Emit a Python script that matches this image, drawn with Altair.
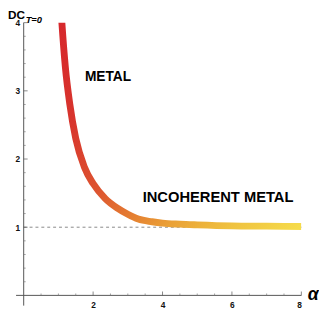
import altair as alt
import pandas as pd

# curve values
alpha = [1.05, 1.1, 1.2, 1.33, 1.5, 1.75, 2.0, 2.35, 2.7, 3.0, 3.3, 3.7, 4.0, 4.5, 5.0, 6.0, 7.0, 8.0]
dc = [4.4, 4.0, 3.35, 2.8, 2.3, 1.88, 1.64, 1.42, 1.28, 1.19, 1.12, 1.08, 1.06, 1.045, 1.035, 1.02, 1.015, 1.01]

x_major = [2, 4, 6, 8]
x_minor = [0.5, 1, 1.5, 2.5, 3, 3.5, 4.5, 5, 5.5, 6.5, 7, 7.5]
y_major = [1, 2, 3, 4]
y_minor = [0.2, 0.4, 0.6, 0.8, 1.2, 1.4, 1.6, 1.8, 2.2, 2.4, 2.6, 2.8, 3.2, 3.4, 3.6, 3.8]

labels = ["METAL", "INCOHERENT METAL"]
label_x = [2.43, 5.60]
label_y = [3.20, 1.446]

W, H = 283, 278
FONT = "Liberation Sans"

xs = alt.Scale(domain=[0, 8], nice=False)
ys = alt.Scale(domain=[0, 4], nice=False)

curve_df = pd.DataFrame({"a": alpha, "dc": dc})
base = alt.Chart(curve_df)

grad = alt.Gradient(
    gradient="linear",
    stops=[
        alt.GradientStop(offset=0, color="#d6252c"),
        alt.GradientStop(offset=0.3, color="#d8352d"),
        alt.GradientStop(offset=0.5, color="#dd5430"),
        alt.GradientStop(offset=0.62, color="#e47c31"),
        alt.GradientStop(offset=0.72, color="#eaa036"),
        alt.GradientStop(offset=0.85, color="#efc13f"),
        alt.GradientStop(offset=1, color="#f6dc4b"),
    ],
    x1=0, y1=0, x2=1, y2=1,
)

axis_x = alt.Axis(values=x_major, format="d", ticks=False, domain=False, grid=False, title=None,
                  labelFont=FONT, labelFontSize=8.5, labelFontWeight="bold", labelColor="#111",
                  labelPadding=5)
axis_y = alt.Axis(values=y_major, format="d", ticks=False, domain=False, grid=False, title=None,
                  labelFont=FONT, labelFontSize=8.5, labelFontWeight="bold", labelColor="#111",
                  labelPadding=4)

dashed = alt.Chart(pd.DataFrame({"y": [1]})).mark_rule(
    color="#888", strokeDash=[3, 3], strokeWidth=1
).encode(
    x=alt.datum(0, scale=xs, axis=axis_x),
    x2=alt.datum(8),
    y=alt.Y("y:Q", scale=ys, axis=axis_y),
)

xaxis_line = alt.Chart(pd.DataFrame({"y": [0]})).mark_rule(color="#555", strokeWidth=1, clip=False).encode(
    x=alt.datum(-0.22), x2=alt.datum(8), y=alt.Y("y:Q")
)
yaxis_line = alt.Chart(pd.DataFrame({"x": [0]})).mark_rule(color="#555", strokeWidth=1, clip=False).encode(
    x=alt.X("x:Q"), y=alt.datum(-0.15), y2=alt.datum(4)
)

xt_major = alt.Chart(pd.DataFrame({"v": x_major})).mark_tick(
    color="#555", size=4, thickness=1, orient="vertical"
).encode(x=alt.X("v:Q"), y=alt.value(H - 2))
xt_minor = alt.Chart(pd.DataFrame({"v": x_minor})).mark_tick(
    color="#777", size=2, thickness=1, orient="vertical"
).encode(x=alt.X("v:Q"), y=alt.value(H - 1))
yt_major = alt.Chart(pd.DataFrame({"v": y_major})).mark_tick(
    color="#555", size=4, thickness=1, orient="horizontal"
).encode(y=alt.Y("v:Q"), x=alt.value(2))
yt_minor = alt.Chart(pd.DataFrame({"v": y_minor})).mark_tick(
    color="#777", size=2, thickness=1, orient="horizontal"
).encode(y=alt.Y("v:Q"), x=alt.value(1))

curve = base.mark_line(stroke=grad, strokeWidth=7, interpolate="monotone", clip=True, strokeCap="butt").encode(
    x=alt.X("a:Q"), y=alt.Y("dc:Q")
)

lab_df = pd.DataFrame({"t": labels, "x": label_x, "y": label_y})
lab1 = alt.Chart(lab_df.iloc[[0]]).mark_text(font=FONT, fontWeight="bold", fontSize=14, color="#000",
                                             align="center", baseline="middle").encode(
    x="x:Q", y="y:Q", text="t:N")
lab2 = alt.Chart(lab_df.iloc[[1]]).mark_text(font=FONT, fontWeight="bold", fontSize=15, color="#000",
                                             align="center", baseline="middle").encode(
    x="x:Q", y="y:Q", text="t:N")

dc_title = alt.Chart(pd.DataFrame({"t": ["DC"]})).mark_text(font=FONT, fontWeight="bold", fontSize=12, color="#000",
                                                            align="left", baseline="alphabetic").encode(
    x=alt.value(-16), y=alt.value(-3.3), text="t:N")
sub_title = alt.Chart(pd.DataFrame({"t": ["T=0"]})).mark_text(font=FONT, fontWeight="bold", fontStyle="italic",
                                                              fontSize=9.5, color="#000",
                                                              align="left", baseline="alphabetic").encode(
    x=alt.value(2), y=alt.value(0), text="t:N")
alpha_title = alt.Chart(pd.DataFrame({"t": ["α"]})).mark_text(font=FONT, fontWeight="bold", fontStyle="italic",
                                                              fontSize=18, color="#000",
                                                              align="left", baseline="alphabetic").encode(
    x=alt.value(289.5), y=alt.value(H + 4.5), text="t:N")

chart = alt.layer(
    dashed, xaxis_line, yaxis_line, xt_major, xt_minor, yt_major, yt_minor,
    curve, lab1, lab2, dc_title, sub_title, alpha_title
).properties(
    width=W, height=H,
    autosize=alt.AutoSizeParams(type="none"),
    padding={"left": 16, "top": 12, "right": 18, "bottom": 14},
).configure_view(stroke=None)

chart.save("out.html", embed_options={"renderer": "svg", "actions": False})
